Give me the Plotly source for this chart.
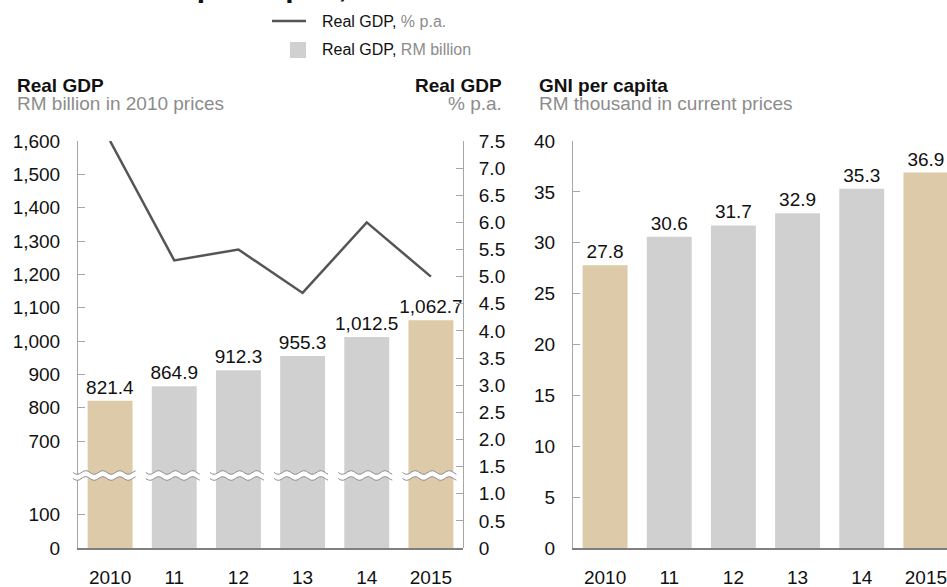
import math
import plotly.graph_objects as go

# ---------------- data ----------------
years = ["2010", "11", "12", "13", "14", "2015"]
real_gdp_rm_bn = [821.4, 864.9, 912.3, 955.3, 1012.5, 1062.7]
real_gdp_growth_pct = [7.5, 5.3, 5.5, 4.7, 6.0, 5.0]
gni_per_capita_rm_k = [27.8, 30.6, 31.7, 32.9, 35.3, 36.9]
highlight_years = ["2010", "2015"]

left_lower_ticks = [0, 100]
left_upper_ticks = [700, 800, 900, 1000, 1100, 1200, 1300, 1400, 1500, 1600]
right_pct_ticks = [0, 0.5, 1.0, 1.5, 2.0, 2.5, 3.0, 3.5, 4.0, 4.5, 5.0, 5.5, 6.0, 6.5, 7.0, 7.5]
gni_ticks = [0, 5, 10, 15, 20, 25, 30, 35, 40]

# ---------------- style ----------------
W, H = 947, 587
FONT = "Arial, 'Liberation Sans', sans-serif"
TAN = "#DDCAA8"
GREY_BAR = "#D0D0D0"
LINE = "#555555"
SUB = "#8C8C8C"
AXIS = "#A6A6A6"
BASE = "#7F7F7F"
TXT = "#111111"

colors = [TAN if y in highlight_years else GREY_BAR for y in years]

# pixel layout
y_zero, y_top = 548, 141
y_lo_top, y_hi_bot = 476, 475
scale = 0.3335  # px per RM billion on the broken left axis
lower_max = (y_zero - y_lo_top) / scale
upper_min = 1600 - (y_hi_bot - y_top) / scale
lx0, lx1 = 78, 463
rx0 = 573
cat_px = (lx1 - lx0) / 6.0
r_range_max = -0.5 + (W - rx0) / cat_px


def py(p):
    return 1 - p / H


def px(p):
    return p / W


fig = go.Figure()

fig.add_trace(go.Bar(x=years, y=real_gdp_rm_bn, xaxis="x", yaxis="y",
                     marker=dict(color=colors, line=dict(width=0)), width=0.7,
                     hoverinfo="skip", showlegend=False))
fig.add_trace(go.Bar(x=years, y=real_gdp_rm_bn, xaxis="x", yaxis="y2",
                     marker=dict(color=colors, line=dict(width=0)), width=0.7,
                     text=[f"{v:,.1f}" for v in real_gdp_rm_bn], textposition="outside",
                     constraintext="none",
                     textfont=dict(size=19, color=TXT, family=FONT), cliponaxis=False,
                     hoverinfo="skip", showlegend=False))
fig.add_trace(go.Scatter(x=years, y=real_gdp_growth_pct, xaxis="x", yaxis="y3",
                         mode="lines", line=dict(color=LINE, width=2.5),
                         hoverinfo="skip", showlegend=False))
fig.add_trace(go.Bar(x=years, y=gni_per_capita_rm_k, xaxis="x2", yaxis="y4",
                     marker=dict(color=colors, line=dict(width=0)), width=0.7,
                     text=[f"{v:.1f}" for v in gni_per_capita_rm_k], textposition="outside",
                     constraintext="none",
                     textfont=dict(size=19, color=TXT, family=FONT), cliponaxis=False,
                     hoverinfo="skip", showlegend=False))

common_y = dict(showgrid=False, zeroline=False, showline=True, linecolor=AXIS, linewidth=1,
                ticks="inside", ticklen=7, tickcolor=AXIS, tickwidth=1,
                tickfont=dict(size=19, color=TXT, family=FONT), fixedrange=True)
common_x = dict(type="category", showgrid=False, zeroline=False, showline=True,
                linecolor=BASE, linewidth=2, ticks="", ticklabelstandoff=11,
                tickfont=dict(size=19, color=TXT, family=FONT), fixedrange=True)

fig.update_layout(
    width=W, height=H,
    margin=dict(l=0, r=0, t=0, b=0, autoexpand=False),
    paper_bgcolor="white", plot_bgcolor="rgba(0,0,0,0)",
    barmode="overlay",
    font=dict(family=FONT, color=TXT),
    xaxis=dict(common_x, domain=[px(lx0), px(lx1)], anchor="y", range=[-0.5, 5.5]),
    xaxis2=dict(common_x, domain=[px(rx0), 1.0], anchor="y4", range=[-0.5, r_range_max]),
    yaxis=dict(common_y, domain=[py(y_zero), py(y_lo_top)], anchor="x",
               range=[0, lower_max], tickvals=left_lower_ticks,
               ticktext=[f"{v:,}" for v in left_lower_ticks], ticklabelstandoff=13),
    yaxis2=dict(common_y, domain=[py(y_hi_bot), py(y_top)], anchor="x",
                range=[upper_min, 1600], tickvals=left_upper_ticks,
                ticktext=[f"{v:,}" for v in left_upper_ticks], ticklabelstandoff=13),
    yaxis3=dict(common_y, domain=[py(y_zero), py(y_top)], anchor="x", side="right",
                range=[0, 7.5], tickvals=right_pct_ticks,
                ticktext=["0" if v == 0 else f"{v:.1f}" for v in right_pct_ticks],
                ticklabelstandoff=11),
    yaxis4=dict(common_y, domain=[py(y_zero), py(y_top)], anchor="x2",
                range=[0, 40], tickvals=gni_ticks, ticktext=[str(v) for v in gni_ticks],
                ticklabelstandoff=13),
)

# ---------- axis-break waves (decoration) ----------
shapes = []


def wave(x0, x1, yc, amp=1.8, wl=17.0, n=40):
    pts = []
    for i in range(n + 1):
        x = x0 + (x1 - x0) * i / n
        y = yc + amp * math.sin(2 * math.pi * (x - x0) / wl)
        pts.append((x, y))
    return pts


yu, yl = 472.5, 478.5
for i in range(6):
    c = lx0 + cat_px * (i + 0.5)
    x0 = c - 22.5 - 6 if i > 0 else lx0 - 5
    x1 = c + 22.5 + 3
    up = wave(x0, x1, yu)
    lo = wave(x0, x1, yl)
    fill = "M " + " L ".join(f"{px(x):.5f},{py(y):.5f}" for x, y in up)
    fill += " L " + " L ".join(f"{px(x):.5f},{py(y):.5f}" for x, y in reversed(lo)) + " Z"
    shapes.append(dict(type="path", path=fill, xref="paper", yref="paper",
                       fillcolor="white", line=dict(width=0), layer="above"))
    for pts in (up, lo):
        p = "M " + " L ".join(f"{px(x):.5f},{py(y):.5f}" for x, y in pts)
        shapes.append(dict(type="path", path=p, xref="paper", yref="paper",
                           line=dict(color="#8A8A8A", width=1), layer="above"))

# legend marks
shapes.append(dict(type="line", xref="paper", yref="paper", x0=px(272), x1=px(306),
                   y0=py(21), y1=py(21), line=dict(color=LINE, width=2.5)))
shapes.append(dict(type="rect", xref="paper", yref="paper", x0=px(290), x1=px(306),
                   y0=py(58), y1=py(42), fillcolor=GREY_BAR, line=dict(width=0)))
fig.update_layout(shapes=shapes)

ann = []


def add_text(text, x, y, size, color=TXT, xanchor="left", yanchor="middle", bold=False):
    t = f"<b>{text}</b>" if bold else text
    ann.append(dict(text=t, x=px(x), y=py(y), xref="paper", yref="paper", showarrow=False,
                    xanchor=xanchor, yanchor=yanchor,
                    font=dict(size=size, color=color, family=FONT)))


# clipped headline at the very top
ann.append(dict(text="<b>Real GDP and GNI per capita, 2010–2015</b>", x=px(-73), y=py(5.4),
                xref="paper", yref="paper", showarrow=False, xanchor="left", yanchor="bottom",
                font=dict(size=30, color=TXT, family=FONT)))

add_text(f"Real GDP, <span style='color:{SUB}'>% p.a.</span>", 320, 21, 16)
add_text(f"Real GDP, <span style='color:{SUB}'>RM billion</span>", 320, 50, 16)

add_text("Real GDP", 15, 85, 19, bold=True)
add_text("RM billion in 2010 prices", 15, 103, 19, color=SUB)
add_text("Real GDP", 504, 85, 19, bold=True, xanchor="right")
add_text("% p.a.", 504, 103, 19, color=SUB, xanchor="right")
add_text("GNI per capita", 537, 85, 19, bold=True)
add_text("RM thousand in current prices", 537, 103, 19, color=SUB)

fig.update_layout(annotations=ann)

fig.write_html("out.html",
               config={"displayModeBar": False, "staticPlot": True},
               post_script="document.body.style.margin='0px';"
                           "document.body.style.overflow='hidden';")
